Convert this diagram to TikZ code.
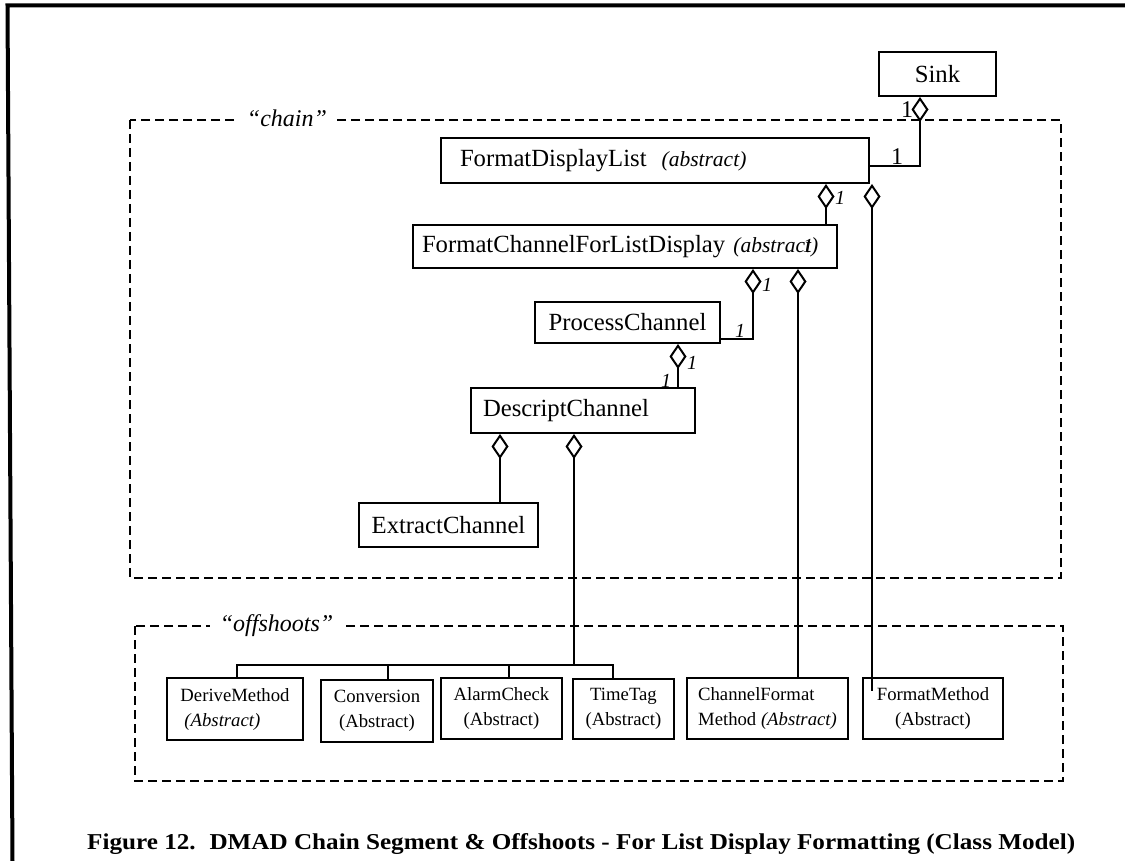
\documentclass[tikz,border=0pt]{standalone}
\usepackage{fontspec}
\setmainfont{Liberation Serif}
\usetikzlibrary{arrows.meta}
\newcommand\clsfont{\fontsize{24.7}{28}\selectfont}
\newcommand\subfont{\fontsize{18.7}{25}\selectfont}
\newcommand\multfont{\fontsize{24}{26}\selectfont}
\newcommand\multifont{\fontsize{20}{22}\selectfont\itshape}
\newcommand\absfont{\fontsize{21.5}{24}\selectfont\itshape}
\newcommand\grpfont{\fontsize{24}{26}\selectfont\itshape}
\newcommand\capfont{\fontsize{22.7}{26}\selectfont\bfseries}

\begin{document}
\begin{tikzpicture}[x=1pt,y=-1pt,
  cls/.style={draw, line width=2pt, fill=white, inner xsep=0pt, inner ysep=0pt, font=\clsfont},
  sub/.style={cls, font=\subfont},
  grp/.style={line width=2.5pt, dash pattern=on 9pt off 5pt},
  conn/.style={line width=2pt},
  agg/.style={conn, {Diamond[fill=white, length=25pt, width=17pt]}-},
  mult/.style={font=\multfont, inner sep=0pt},
  multi/.style={font=\multifont, inner sep=0pt},
  grplabel/.style={fill=white, font=\grpfont, inner xsep=10pt, inner ysep=2pt}]

\useasboundingbox (0,0) rectangle (1125,861);

% page frame: top and left rules
\draw[line width=4pt] (12.5,861) -- (7.5,5.5) -- (1125,5.5);

% package groups
\draw[grp] (130,120) rectangle (1061,578);
\node[grplabel] (chainlbl) at (287,118) {“chain”};
\draw[grp] (135,626) rectangle (1063,781);
\node[grplabel] (offlbl) at (276.5,626) {“offshoots”};

% chain classes
\node[cls, minimum width=117pt, minimum height=44pt] (sink) at (937.5,74) {Sink};
\node[cls, text width=390pt, inner xsep=19pt, align=left, minimum height=45pt] (fdl) at (655,160.5)
  {FormatDisplayList\hspace{15pt}{\absfont(abstract)}};
\node[cls, text width=406pt, inner xsep=9pt, align=left, minimum height=43pt] (fcfld) at (625,246.5)
  {FormatChannelForListDisplay {\absfont(abstract)}};
\node[cls, minimum width=185pt, minimum height=41pt] (pc) at (627.5,322.5) {ProcessChannel};
\node[cls, text width=200pt, inner xsep=12pt, align=left, minimum height=45pt] (dc) at (583,410.5) {DescriptChannel};
\node[cls, minimum width=179pt, minimum height=44pt] (ec) at (448.5,525) {ExtractChannel};

% offshoot classes
\node[sub, align=left, minimum width=136pt, minimum height=62pt] (dm) at (235,709)
  {DeriveMethod\\\hspace*{4pt}\textit{(Abstract)}};
\node[sub, minimum width=112pt, minimum height=62pt, align=center] (cv) at (377,711) {Conversion\\(Abstract)};
\node[sub, minimum width=121pt, minimum height=61pt, align=center] (ac) at (501.5,708.5) {AlarmCheck\\(Abstract)};
\node[sub, minimum width=101pt, minimum height=60pt, align=center] (tt) at (623.5,709) {TimeTag\\(Abstract)};
\node[sub, align=left, minimum width=161pt, minimum height=61pt] (cfm) at (767.5,708.5)
  {ChannelFormat\\Method \textit{(Abstract)}};
\node[sub, minimum width=140pt, minimum height=61pt, align=center] (fm) at (933,708.5) {FormatMethod\\(Abstract)};

% aggregations
\draw[agg] ([xshift=-17.5pt]sink.south) |- ([yshift=-5.5pt]fdl.east);
\node[mult] (m1) at (907,110) {1};
\node[mult] (m2) at (897,157) {1};

\draw[agg] ([xshift=171pt]fdl.south) -- ([xshift=201pt]fcfld.north);
\node[multi] (m3) at (840,198) {1};
\node[multi] (m4) at (808,246) {1};

\draw[agg] ([xshift=217pt]fdl.south) -- ([xshift=-61pt,yshift=-14pt]fm.north);

\draw[agg] ([xshift=128pt]fcfld.south) |- ([yshift=-16.5pt]pc.east);
\node[multi] (m5) at (767,285) {1};
\node[multi] (m6) at (740,331) {1};

\draw[agg] ([xshift=173pt]fcfld.south) -- ([xshift=30.5pt]cfm.north);

\draw[agg] ([xshift=50.5pt]pc.south) -- ([xshift=95pt]dc.north);
\node[multi] (m7) at (692,363) {1};
\node[multi] (m8) at (666,381) {1};

\draw[agg] ([xshift=-83pt]dc.south) -- ([xshift=51.5pt]ec.north);

% offshoot tree
\coordinate (bus) at (574,665);
\draw[agg] ([xshift=-9pt]dc.south) -- (bus);
\draw[conn] ([xshift=2pt]dm.north) |- (bus) -| ([xshift=-10.5pt]tt.north);
\draw[conn] ([xshift=11pt]cv.north) |- (bus);
\draw[conn] ([xshift=7.5pt]ac.north) |- (bus);

% caption
\node[anchor=base west, inner sep=0pt] (caption) at (87,849)
  {\resizebox{988pt}{\height}{\capfont Figure 12.\hspace{0.55em}DMAD Chain Segment \& Offshoots - For List Display Formatting (Class Model)}};
\end{tikzpicture}
\end{document}
